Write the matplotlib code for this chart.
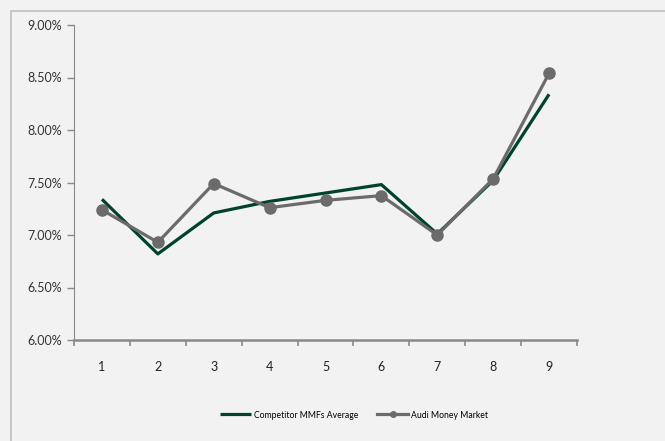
import matplotlib.pyplot as plt
from matplotlib.patches import Rectangle
from matplotlib.ticker import FuncFormatter, FixedLocator

periods = [1, 2, 3, 4, 5, 6, 7, 8, 9]
competitor_avg = [7.34, 6.82, 7.21, 7.32, 7.40, 7.48, 7.01, 7.52, 8.34]
audi_mm = [7.24, 6.93, 7.49, 7.26, 7.33, 7.375, 7.00, 7.535, 8.54]
y_ticks = [6.0, 6.5, 7.0, 7.5, 8.0, 8.5, 9.0]

plt.rcParams['font.family'] = ['Lato', 'DejaVu Sans']

bg = '#f2f2f2'
fig = plt.figure(figsize=(6.65, 4.41), dpi=100, facecolor=bg)

# outer chart-area border (only top and left visible in the crop)
fig.patches.append(Rectangle((11 / 665, -0.1), 1.0, 1 - 11 / 441 + 0.1,
                             transform=fig.transFigure, fill=False,
                             edgecolor='#bfbfbf', linewidth=1.2))

ax = fig.add_axes([74 / 665, 101 / 441, 503 / 665, 315 / 441])
ax.set_facecolor(bg)

ax.plot(periods, competitor_avg, color='#00432a', linewidth=2.3,
        label='Competitor MMFs Average', solid_capstyle='butt')
ax.plot(periods, audi_mm, color='#6b6b6b', linewidth=2.3, marker='o',
        markersize=8, label='Audi Money Market')

ax.set_xlim(0.5, 9.5)
ax.set_ylim(6.0, 9.0)
ax.set_yticks(y_ticks)
ax.yaxis.set_major_formatter(FuncFormatter(lambda v, p: f'{v:.2f}%'))

ax.xaxis.set_major_locator(FixedLocator([p - 0.5 for p in periods] + [9.5]))
ax.xaxis.set_minor_locator(FixedLocator(periods))
ax.set_xticklabels([])
ax.set_xticklabels([str(p) for p in periods], minor=True)
ax.tick_params(axis='x', which='minor', length=0, pad=15, labelsize=9,
               labelcolor='#222222')
ax.tick_params(axis='x', which='major', length=4, color='#898989', width=1.2)
ax.tick_params(axis='y', length=5, color='#898989', width=1.0, labelsize=9,
               labelcolor='#333333', pad=4)

for s in ['top', 'right']:
    ax.spines[s].set_visible(False)
ax.spines['left'].set_color('#898989')
ax.spines['bottom'].set_color('#898989')
ax.spines['bottom'].set_linewidth(1.8)

fig.legend(loc='center', bbox_to_anchor=(354 / 665, 1 - 415 / 441), ncol=2,
           frameon=False, fontsize=6.2, handlelength=3.6, columnspacing=2.2,
           handletextpad=0.3, markerscale=0.5)

fig.savefig('out.png', dpi=100, facecolor=bg)
